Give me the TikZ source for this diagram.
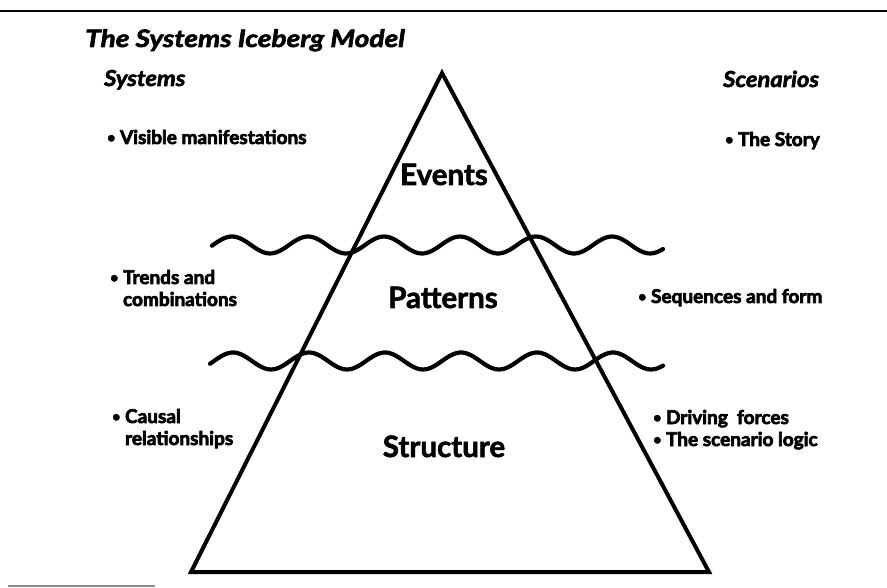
\documentclass[tikz,border=0pt]{standalone}
\usepackage{fontspec}
\usepackage{graphicx}
\setmainfont{Lato}
\newfontfamily\heavyfont{Lato}[BoldFeatures={FakeBold=3.5}, BoldItalicFeatures={FakeBold=2.5}]
\newfontfamily\midfont{Lato}[BoldFeatures={FakeBold=2}]
\newcommand\bulletmark{\raisebox{0.15ex}{\scalebox{0.75}{\textbullet}}\ }
\begin{document}
\begin{tikzpicture}[x=1pt,y=-1pt,
  titletext/.style={anchor=base west, inner sep=0pt, font=\heavyfont\fontsize{24}{28}\selectfont\bfseries\itshape\addfontfeatures{FakeStretch=1.17}},
  headtext/.style={anchor=base west, inner sep=0pt, font=\heavyfont\fontsize{22}{26}\selectfont\bfseries\itshape\addfontfeatures{FakeStretch=1.08}},
  itemtext/.style={anchor=base west, inner sep=0pt, font=\heavyfont\fontsize{19}{22}\selectfont\bfseries},
  layertext/.style={anchor=base, inner sep=0pt, font=\midfont\fontsize{29.5}{34}\selectfont\bfseries},
  wave/.style={line width=4.2pt, line cap=round, line join=round},
  berg/.style={line width=4pt, line join=miter},
  rule/.style={line width=2.5pt}
]
\useasboundingbox (0,0) rectangle (887,588);
% page rules
\coordinate (rl) at (0,11);
\coordinate (rr) at (887,11);
\draw[rule] (rl) -- (rr);
\coordinate (bl) at (8,586);
\coordinate (br) at (155,586);
\draw[line width=2pt, black!45] (bl) -- (br);
% iceberg
\coordinate (apex) at (442,73);
\coordinate (left) at (191,572);
\coordinate (right) at (709,572);
\draw[berg] (apex) -- (left) -- (right) -- cycle;
% waves
\draw[wave] plot[domain=212:663, samples=150, smooth] (\x, {245-8.5*sin(4.7368*(\x-213))});
\draw[wave] plot[domain=210:663, samples=150, smooth] (\x, {361-8.5*sin(4.7368*(\x-214))});
% title
\node[titletext] (title) at (85,47) {The Systems Iceberg Model};
% headings
\node[headtext] (sys) at (104,86) {Systems};
\node[headtext] (scen) at (723,87) {Scenarios};
% left items
\node[itemtext] (vis) at (107,144) {\bulletmark Visible manifestations};
\node[itemtext] (tr1) at (110,284) {\bulletmark Trends and};
\node[itemtext] (tr2) at (110,306) {\phantom{\bulletmark}combinations};
\node[itemtext] (ca1) at (112,423) {\bulletmark Causal};
\node[itemtext] (ca2) at (112,445) {\phantom{\bulletmark}relationships};
% right items
\node[itemtext] (story) at (725,146) {\bulletmark The Story};
\node[itemtext] (seq) at (638,303) {\bulletmark Sequences and form};
\node[itemtext] (drv) at (653,424) {\bulletmark Driving\ \ forces};
\node[itemtext] (logic) at (653,446) {\bulletmark The scenario logic};
% layers
\node[layertext] (events) at (444,185) {Events};
\node[layertext] (patterns) at (443,308) {Patterns};
\node[layertext] (structure) at (444,457) {Structure};
\end{tikzpicture}
\end{document}
